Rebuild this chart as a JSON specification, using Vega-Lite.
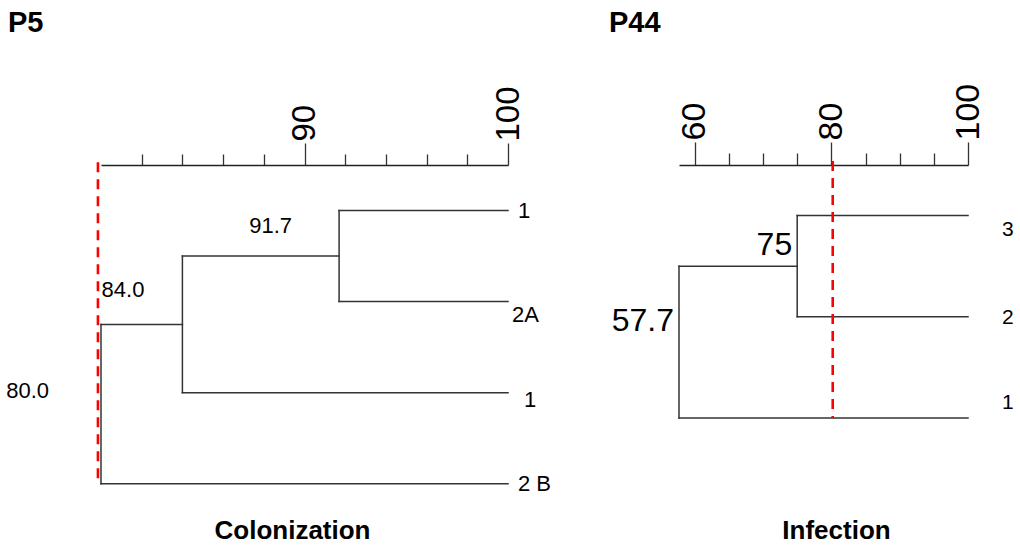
{
  "$schema": "https://vega.github.io/schema/vega-lite/v6.json",
  "background": "white",
  "padding": {"left": 6, "top": 8, "right": 5, "bottom": 5},
  "bounds": "flush",
  "spacing": 171,
  "config": {
    "view": {"stroke": null},
    "font": "Liberation Sans",
    "text": {"font": "Liberation Sans", "color": "black"}
  },
  "datasets": {
    "p5_branches": [
      {"x": 91.7, "x2": 100, "y": 1, "y2": 1},
      {"x": 91.7, "x2": 100, "y": 2, "y2": 2},
      {"x": 91.7, "x2": 91.7, "y": 1, "y2": 2},
      {"x": 84.0, "x2": 91.7, "y": 1.5, "y2": 1.5},
      {"x": 84.0, "x2": 100, "y": 3, "y2": 3},
      {"x": 84.0, "x2": 84.0, "y": 1.5, "y2": 3},
      {"x": 80.0, "x2": 84.0, "y": 2.25, "y2": 2.25},
      {"x": 80.0, "x2": 100, "y": 4, "y2": 4},
      {"x": 80.0, "x2": 80.0, "y": 2.25, "y2": 4}
    ],
    "p5_leaves": [
      {"leaf": "1", "x": 100, "pos": 1},
      {"leaf": "2A", "x": 100, "pos": 2},
      {"leaf": "1", "x": 100, "pos": 3},
      {"leaf": "2 B", "x": 100, "pos": 4}
    ],
    "p5_nodes": [
      {"x": 91.7, "y": 1.5},
      {"x": 84.0, "y": 2.25},
      {"x": 80.0, "y": 3.125}
    ],
    "p5_cut": [{"x": 79.85, "y": 0.47, "y2": 4.01}],
    "p44_branches": [
      {"x": 75, "x2": 100, "y": 1, "y2": 1},
      {"x": 75, "x2": 100, "y": 2, "y2": 2},
      {"x": 75, "x2": 75, "y": 1, "y2": 2},
      {"x": 57.7, "x2": 75, "y": 1.5, "y2": 1.5},
      {"x": 57.7, "x2": 100, "y": 3, "y2": 3},
      {"x": 57.7, "x2": 57.7, "y": 1.5, "y2": 3}
    ],
    "p44_leaves": [
      {"leaf": "3", "x": 100, "pos": 1},
      {"leaf": "2", "x": 100, "pos": 2},
      {"leaf": "1", "x": 100, "pos": 3}
    ],
    "p44_nodes": [
      {"x": 75, "y": 1.5},
      {"x": 57.7, "y": 2.25}
    ],
    "p44_cut": [{"x": 80.2, "y": 0.46, "y2": 3.0}]
  },
  "hconcat": [
    {
      "width": 407,
      "height": 337,
      "title": {"text": "P5", "anchor": "start", "frame": "group", "dx": -93, "offset": 48, "fontSize": 29, "fontWeight": "bold", "font": "Liberation Sans", "color": "black"},
      "resolve": {"axis": {"x": "independent"}},
      "layer": [
        {
          "data": {"name": "p5_branches"},
          "mark": {"type": "rule", "stroke": "#333333", "strokeWidth": 1.5, "strokeCap": "square"},
          "encoding": {
            "x": {
              "field": "x", "type": "quantitative",
              "scale": {"domain": [80, 100], "zero": false, "nice": false},
              "axis": {
                "orient": "top", "title": null, "grid": false,
                "values": [82, 84, 86, 88, 90, 92, 94, 96, 98, 100],
                "labelExpr": "datum.value % 10 === 0 ? datum.label : ''",
                "labelAngle": -90, "labelFontSize": 33, "labelFont": "Liberation Sans", "labelColor": "black",
                "labelPadding": 2, "labelFlush": false, "labelOverlap": false, "labelBound": false,
                "tickSize": {"condition": {"test": "datum.value % 10 === 0", "value": 22}, "value": 11},
                "tickColor": "#333333", "tickWidth": 1.3,
                "domainColor": "#222222", "domainWidth": 1.5
              }
            },
            "x2": {"field": "x2"},
            "y": {"field": "y", "type": "quantitative", "scale": {"domain": [0.5, 4.2], "reverse": true, "zero": false, "nice": false}, "axis": null},
            "y2": {"field": "y2"}
          }
        },
        {
          "data": {"name": "p5_cut"},
          "mark": {"type": "rule", "stroke": "#ff0000", "strokeWidth": 2.6, "strokeDash": [10, 7]},
          "encoding": {
            "x": {
              "field": "x", "type": "quantitative",
              "scale": {"domain": [80, 100], "zero": false, "nice": false},
              "axis": {
                "orient": "bottom", "domain": false, "ticks": false, "labels": false, "grid": false,
                "title": "Colonization", "titleFontSize": 26, "titleFontWeight": "bold", "titleFont": "Liberation Sans",
                "titleColor": "black", "titlePadding": 15, "titleX": 191
              }
            },
            "y": {"field": "y", "type": "quantitative", "scale": {"domain": [0.5, 4.2], "reverse": true, "zero": false, "nice": false}, "axis": null},
            "y2": {"field": "y2"}
          }
        },
        {
          "data": {"name": "p5_leaves"},
          "transform": [{"filter": "datum.pos == 1 || datum.pos == 4"}],
          "mark": {"type": "text", "align": "left", "baseline": "middle", "fontSize": 22, "dx": 10},
          "encoding": {
            "x": {"field": "x", "type": "quantitative", "scale": {"domain": [80, 100], "zero": false, "nice": false}, "axis": null},
            "y": {"field": "pos", "type": "quantitative", "scale": {"domain": [0.5, 4.2], "reverse": true, "zero": false, "nice": false}, "axis": null},
            "text": {"field": "leaf"}
          }
        },
        {
          "data": {"name": "p5_leaves"},
          "transform": [{"filter": "datum.pos == 2"}],
          "mark": {"type": "text", "align": "left", "baseline": "middle", "fontSize": 22, "dx": 4, "dy": 13},
          "encoding": {
            "x": {"field": "x", "type": "quantitative", "scale": {"domain": [80, 100], "zero": false, "nice": false}, "axis": null},
            "y": {"field": "pos", "type": "quantitative", "scale": {"domain": [0.5, 4.2], "reverse": true, "zero": false, "nice": false}, "axis": null},
            "text": {"field": "leaf"}
          }
        },
        {
          "data": {"name": "p5_leaves"},
          "transform": [{"filter": "datum.pos == 3"}],
          "mark": {"type": "text", "align": "left", "baseline": "middle", "fontSize": 22, "dx": 16, "dy": 7},
          "encoding": {
            "x": {"field": "x", "type": "quantitative", "scale": {"domain": [80, 100], "zero": false, "nice": false}, "axis": null},
            "y": {"field": "pos", "type": "quantitative", "scale": {"domain": [0.5, 4.2], "reverse": true, "zero": false, "nice": false}, "axis": null},
            "text": {"field": "leaf"}
          }
        },
        {
          "data": {"name": "p5_nodes"},
          "transform": [{"filter": "datum.x > 90"}],
          "mark": {"type": "text", "align": "right", "baseline": "middle", "fontSize": 22, "dx": -47, "dy": -30},
          "encoding": {
            "x": {"field": "x", "type": "quantitative", "scale": {"domain": [80, 100], "zero": false, "nice": false}, "axis": null},
            "y": {"field": "y", "type": "quantitative", "scale": {"domain": [0.5, 4.2], "reverse": true, "zero": false, "nice": false}, "axis": null},
            "text": {"field": "x", "type": "quantitative", "format": ".1f"}
          }
        },
        {
          "data": {"name": "p5_nodes"},
          "transform": [{"filter": "datum.x > 82 && datum.x < 90"}],
          "mark": {"type": "text", "align": "right", "baseline": "middle", "fontSize": 22, "dx": -38, "dy": -34},
          "encoding": {
            "x": {"field": "x", "type": "quantitative", "scale": {"domain": [80, 100], "zero": false, "nice": false}, "axis": null},
            "y": {"field": "y", "type": "quantitative", "scale": {"domain": [0.5, 4.2], "reverse": true, "zero": false, "nice": false}, "axis": null},
            "text": {"field": "x", "type": "quantitative", "format": ".1f"}
          }
        },
        {
          "data": {"name": "p5_nodes"},
          "transform": [{"filter": "datum.x < 82"}],
          "mark": {"type": "text", "align": "right", "baseline": "middle", "fontSize": 22, "dx": -52, "dy": -13},
          "encoding": {
            "x": {"field": "x", "type": "quantitative", "scale": {"domain": [80, 100], "zero": false, "nice": false}, "axis": null},
            "y": {"field": "y", "type": "quantitative", "scale": {"domain": [0.5, 4.2], "reverse": true, "zero": false, "nice": false}, "axis": null},
            "text": {"field": "x", "type": "quantitative", "format": ".1f"}
          }
        }
      ]
    },
    {
      "width": 289,
      "height": 337,
      "title": {"text": "P44", "anchor": "start", "frame": "group", "dx": -70, "offset": 45, "fontSize": 29, "fontWeight": "bold", "font": "Liberation Sans", "color": "black"},
      "resolve": {"axis": {"x": "independent"}},
      "layer": [
        {
          "data": {"name": "p44_branches"},
          "mark": {"type": "rule", "stroke": "#333333", "strokeWidth": 1.5, "strokeCap": "square"},
          "encoding": {
            "x": {
              "field": "x", "type": "quantitative",
              "scale": {"domain": [57.7, 100], "zero": false, "nice": false},
              "axis": {
                "orient": "top", "title": null, "grid": false,
                "values": [60, 65, 70, 75, 80, 85, 90, 95, 100],
                "labelExpr": "datum.value % 20 === 0 ? datum.label : ''",
                "labelAngle": -90, "labelFontSize": 34, "labelFont": "Liberation Sans", "labelColor": "black",
                "labelPadding": 2, "labelFlush": false, "labelOverlap": false, "labelBound": false,
                "tickSize": {"condition": {"test": "datum.value % 20 === 0", "value": 23}, "value": 12},
                "tickColor": "#333333", "tickWidth": 1.3,
                "domainColor": "#222222", "domainWidth": 1.5
              }
            },
            "x2": {"field": "x2"},
            "y": {"field": "y", "type": "quantitative", "scale": {"domain": [0.5, 3.83], "reverse": true, "zero": false, "nice": false}, "axis": null},
            "y2": {"field": "y2"}
          }
        },
        {
          "data": {"name": "p44_cut"},
          "mark": {"type": "rule", "stroke": "#ff0000", "strokeWidth": 2.6, "strokeDash": [10, 7]},
          "encoding": {
            "x": {
              "field": "x", "type": "quantitative",
              "scale": {"domain": [57.7, 100], "zero": false, "nice": false},
              "axis": {
                "orient": "bottom", "domain": false, "ticks": false, "labels": false, "grid": false,
                "title": "Infection", "titleFontSize": 26, "titleFontWeight": "bold", "titleFont": "Liberation Sans",
                "titleColor": "black", "titlePadding": 15, "titleX": 157
              }
            },
            "y": {"field": "y", "type": "quantitative", "scale": {"domain": [0.5, 3.83], "reverse": true, "zero": false, "nice": false}, "axis": null},
            "y2": {"field": "y2"}
          }
        },
        {
          "data": {"name": "p44_leaves"},
          "transform": [{"filter": "datum.pos == 1"}],
          "mark": {"type": "text", "align": "left", "baseline": "middle", "fontSize": 21, "dx": 34, "dy": 14},
          "encoding": {
            "x": {"field": "x", "type": "quantitative", "scale": {"domain": [57.7, 100], "zero": false, "nice": false}, "axis": null},
            "y": {"field": "pos", "type": "quantitative", "scale": {"domain": [0.5, 3.83], "reverse": true, "zero": false, "nice": false}, "axis": null},
            "text": {"field": "leaf"}
          }
        },
        {
          "data": {"name": "p44_leaves"},
          "transform": [{"filter": "datum.pos == 2"}],
          "mark": {"type": "text", "align": "left", "baseline": "middle", "fontSize": 21, "dx": 34, "dy": 1},
          "encoding": {
            "x": {"field": "x", "type": "quantitative", "scale": {"domain": [57.7, 100], "zero": false, "nice": false}, "axis": null},
            "y": {"field": "pos", "type": "quantitative", "scale": {"domain": [0.5, 3.83], "reverse": true, "zero": false, "nice": false}, "axis": null},
            "text": {"field": "leaf"}
          }
        },
        {
          "data": {"name": "p44_leaves"},
          "transform": [{"filter": "datum.pos == 3"}],
          "mark": {"type": "text", "align": "left", "baseline": "middle", "fontSize": 21, "dx": 34, "dy": -15},
          "encoding": {
            "x": {"field": "x", "type": "quantitative", "scale": {"domain": [57.7, 100], "zero": false, "nice": false}, "axis": null},
            "y": {"field": "pos", "type": "quantitative", "scale": {"domain": [0.5, 3.83], "reverse": true, "zero": false, "nice": false}, "axis": null},
            "text": {"field": "leaf"}
          }
        },
        {
          "data": {"name": "p44_nodes"},
          "mark": {"type": "text", "align": "right", "baseline": "middle", "fontSize": 32, "dx": -5, "dy": -21.5},
          "encoding": {
            "x": {"field": "x", "type": "quantitative", "scale": {"domain": [57.7, 100], "zero": false, "nice": false}, "axis": null},
            "y": {"field": "y", "type": "quantitative", "scale": {"domain": [0.5, 3.83], "reverse": true, "zero": false, "nice": false}, "axis": null},
            "text": {"field": "x", "type": "quantitative", "format": "~g"}
          }
        }
      ]
    }
  ]
}
